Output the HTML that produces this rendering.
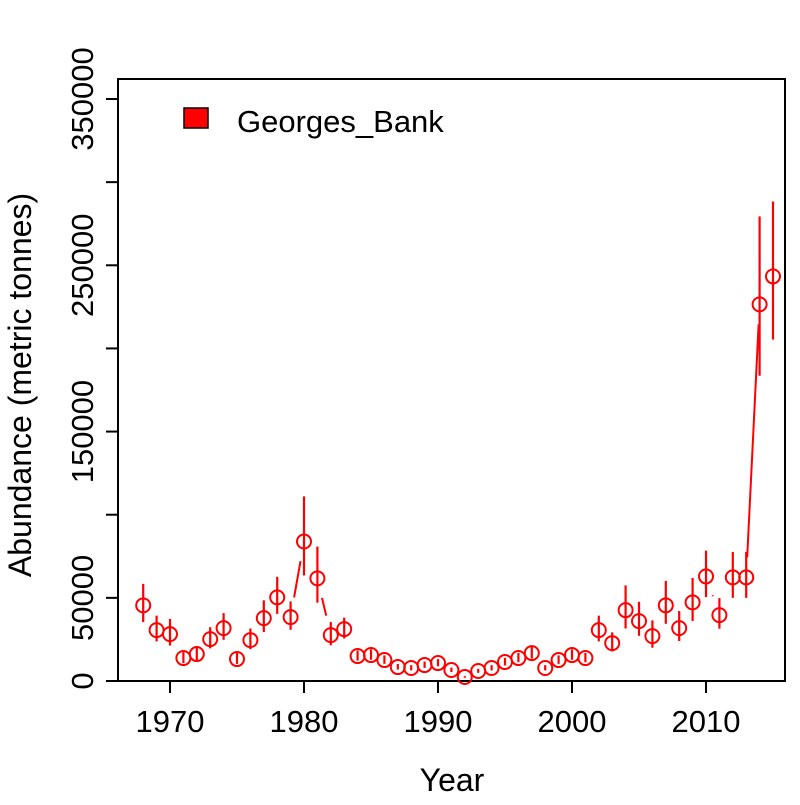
<!DOCTYPE html>
<html><head><meta charset="utf-8"><style>
body{margin:0;background:#fff}
svg text{font-family:"Liberation Sans",Arial,sans-serif;fill:#000}
</style></head><body>
<svg id="chart" width="800" height="800" viewBox="0 0 800 800" xmlns="http://www.w3.org/2000/svg">
<rect x="118" y="79" width="667" height="602" fill="none" stroke="#000" stroke-width="2"/>
<g id="yaxis"></g>
<g id="xaxis"></g>
<g id="series"></g>
<text x="452" y="791" font-size="32" text-anchor="middle">Year</text>
<text transform="translate(31,385) rotate(-90)" font-size="32" text-anchor="middle">Abundance (metric tonnes)</text>
<g>
<rect x="184" y="108" width="24" height="20" fill="#ff0000" stroke="#000" stroke-width="1.5"/>
<text x="237" y="132" font-size="31">Georges_Bank</text>
</g>
</svg>
<script>
const years=[1968,1969,1970,1971,1972,1973,1974,1975,1976,1977,1978,1979,1980,1981,1982,1983,1984,1985,1986,1987,1988,1989,1990,1991,1992,1993,1994,1995,1996,1997,1998,1999,2000,2001,2002,2003,2004,2005,2006,2007,2008,2009,2010,2011,2012,2013,2014,2015];
const abundance=[45500,30600,28200,13800,16200,25200,31800,13200,24600,37800,50300,38400,83900,61700,27600,31200,15000,15600,12600,8400,7800,9600,10800,6600,2400,6000,7800,11400,13800,16800,7800,12600,15600,13800,30600,22800,42600,36000,27000,45500,31800,47300,62900,39600,62300,62300,226500,243300];
const sigma=[0.25,0.25,0.28,0.25,0.25,0.25,0.25,0.25,0.25,0.25,0.22,0.22,0.28,0.27,0.25,0.2,0.2,0.2,0.2,0.2,0.2,0.2,0.2,0.2,0.2,0.2,0.2,0.2,0.2,0.22,0.2,0.2,0.2,0.2,0.25,0.25,0.3,0.28,0.3,0.28,0.28,0.27,0.22,0.23,0.22,0.22,0.21,0.17];
const yTicks=[0,50000,100000,150000,200000,250000,300000,350000];
const yLabels=["0","50000","","150000","","250000","","350000"];
const xTicks=[1970,1980,1990,2000,2010];
const NS="http://www.w3.org/2000/svg";
const X=v=>170+(v-1970)*13.4;
const Y=v=>681-v*582/350000;
function mk(t,a,p){const e=document.createElementNS(NS,t);for(const k in a)e.setAttribute(k,a[k]);p.appendChild(e);return e;}
const ya=document.getElementById('yaxis'),xa=document.getElementById('xaxis'),sg=document.getElementById('series');
yTicks.forEach((t,i)=>{
 const l=mk('line',{x1:106,x2:118,y1:Y(t),y2:Y(t),stroke:'#000','stroke-width':2},ya);
 
 
 if(yLabels[i]){const tx=mk('text',{transform:`translate(93,${Y(t)}) rotate(-90)`,'font-size':31,'text-anchor':'middle'},ya);tx.textContent=yLabels[i];
 
 }
});
xTicks.forEach(t=>{
 const l=mk('line',{x1:X(t),x2:X(t),y1:681,y2:693,stroke:'#000','stroke-width':2},xa);
 
 
 const tx=mk('text',{x:X(t),y:732,'font-size':31,'text-anchor':'middle'},xa);tx.textContent=t;
 
 
});
const gap=20;
for(let i=0;i<years.length-1;i++){
 const x1=X(years[i]),y1=Y(abundance[i]),x2=X(years[i+1]),y2=Y(abundance[i+1]);
 const d=Math.hypot(x2-x1,y2-y1);
 if(d>2*gap){const ux=(x2-x1)/d,uy=(y2-y1)/d;
  const s=mk('line',{x1:x1+ux*gap,y1:y1+uy*gap,x2:x2-ux*gap,y2:y2-uy*gap,stroke:'#f00','stroke-width':2},sg);
  
  }
}
years.forEach((yr,i)=>{
 const v=abundance[i],lo=v*Math.exp(-sigma[i]),hi=v*Math.exp(sigma[i]);
 const e=mk('line',{x1:X(yr),x2:X(yr),y1:Y(lo),y2:Y(hi),stroke:'#f00','stroke-width':2.2},sg);
 
 
 const c=mk('circle',{cx:X(yr),cy:Y(v),r:7,fill:'none',stroke:'#f00','stroke-width':2},sg);
 
 
});
</script>
</body></html>
